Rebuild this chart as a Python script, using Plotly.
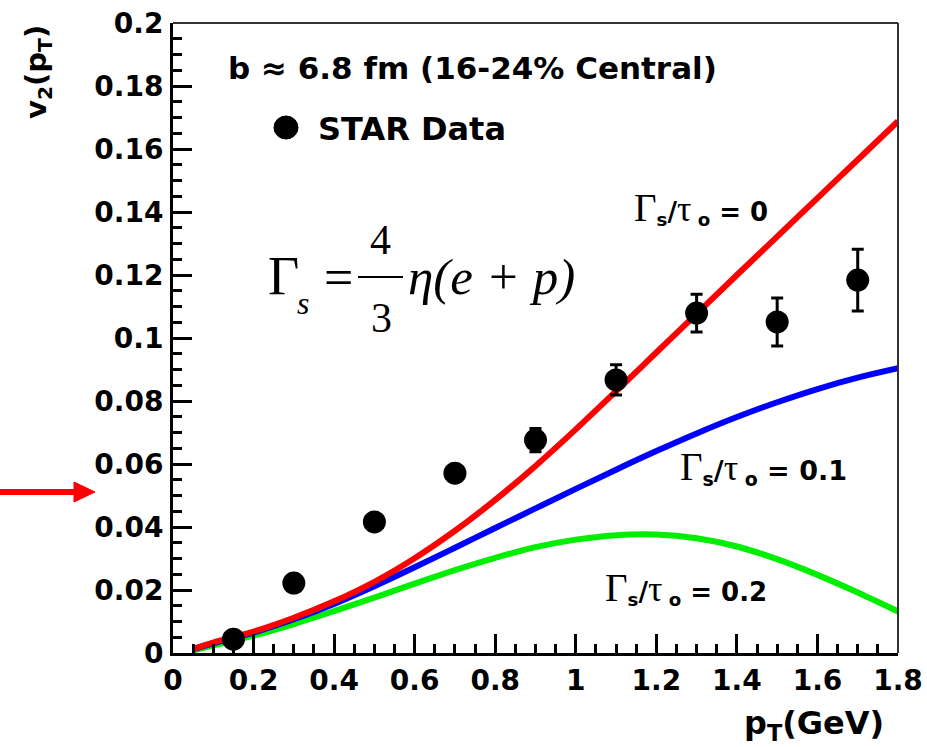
import plotly.graph_objects as go

# ---------------- data ----------------
pt_data = [0.15, 0.3, 0.5, 0.7, 0.9, 1.1, 1.3, 1.5, 1.7]
v2_data = [0.0044, 0.0222, 0.0416, 0.0571, 0.0676, 0.0867, 0.1079, 0.1051, 0.1184]
v2_err = [0.001, 0.001, 0.0012, 0.0015, 0.0037, 0.0048, 0.006, 0.0076, 0.0098]

pt_curve = [0.05, 0.1, 0.2, 0.3, 0.4, 0.5, 0.6, 0.7, 0.8, 0.9, 1.0, 1.1, 1.2,
            1.3, 1.4, 1.5, 1.6, 1.7, 1.8]
v2_ideal = [0.0013, 0.0033, 0.0068, 0.0112, 0.0164, 0.0226, 0.0301, 0.0388, 0.0486, 0.0594,
            0.0710, 0.0831, 0.0954, 0.1077, 0.1200, 0.1322, 0.1444, 0.1566, 0.1688]
v2_visc01 = [0.0012, 0.0031, 0.0065, 0.0107, 0.0156, 0.0212, 0.0272, 0.0334, 0.0397, 0.0459,
             0.0521, 0.0582, 0.0641, 0.0697, 0.0749, 0.0796, 0.0838, 0.0874, 0.0904]
v2_visc02 = [0.0008, 0.0024, 0.0055, 0.0092, 0.0133, 0.0176, 0.0220, 0.0263, 0.0302, 0.0336,
             0.0360, 0.0374, 0.0376, 0.0364, 0.0338, 0.0298, 0.0248, 0.0192, 0.0132]

x_ticks = [0, 0.2, 0.4, 0.6, 0.8, 1, 1.2, 1.4, 1.6, 1.8]
x_ticklabels = ["0", "0.2", "0.4", "0.6", "0.8", "1", "1.2", "1.4", "1.6", "1.8"]
y_ticks = [0, 0.02, 0.04, 0.06, 0.08, 0.1, 0.12, 0.14, 0.16, 0.18, 0.2]
y_ticklabels = ["0", "0.02", "0.04", "0.06", "0.08", "0.1", "0.12", "0.14", "0.16", "0.18", "0.2"]

# ---------------- geometry helpers (pixel -> paper) ----------------
W, H = 927, 747
L, R, T, B = 173, 898, 23, 653


def px(x):
    return (x - L) / (R - L)


def py(y):
    return (B - y) / (B - T)


SANS = "DejaVu Sans"
SERIF = "Liberation Serif"

fig = go.Figure()

fig.add_trace(go.Scatter(x=pt_curve, y=v2_visc02, mode="lines", line=dict(color="#00ee00", width=6, shape="spline"),
                         hoverinfo="skip"))
fig.add_trace(go.Scatter(x=pt_curve, y=v2_visc01, mode="lines", line=dict(color="#0000ff", width=6, shape="spline"),
                         hoverinfo="skip"))
fig.add_trace(go.Scatter(x=pt_curve, y=v2_ideal, mode="lines", line=dict(color="#ff0000", width=6, shape="spline"),
                         hoverinfo="skip"))
fig.add_trace(go.Scatter(x=pt_data, y=v2_data, mode="markers",
                         marker=dict(color="black", size=23, symbol="circle"),
                         error_y=dict(type="data", array=v2_err, color="black", thickness=3, width=6),
                         name="STAR Data"))

axis_common = dict(
    ticks="inside", ticklen=19, tickwidth=3, tickcolor="black",
    showline=True, linewidth=3, linecolor="black",
    showgrid=False, zeroline=False, automargin=False,
    tickfont=dict(family=SANS, size=28, color="black", weight="bold"),
)
fig.update_xaxes(range=[0, 1.8], tickvals=x_ticks, ticktext=x_ticklabels,
                 minor=dict(dtick=0.05, tick0=0, ticks="inside", ticklen=9, tickwidth=3, tickcolor="black",
                            showgrid=False),
                 ticklabelstandoff=0, **axis_common)
fig.update_yaxes(range=[0, 0.2], tickvals=y_ticks, ticktext=y_ticklabels,
                 minor=dict(dtick=0.005, tick0=0, ticks="inside", ticklen=9, tickwidth=3, tickcolor="black",
                            showgrid=False),
                 ticklabelstandoff=1, **axis_common)

shapes = []
# thin top and right frame
shapes.append(dict(type="line", xref="paper", yref="paper", x0=0, x1=1, y0=1, y1=1,
                   line=dict(color="#333333", width=2)))
shapes.append(dict(type="line", xref="paper", yref="paper", x0=1, x1=1, y0=0, y1=1,
                   line=dict(color="#333333", width=2)))
# legend dot
shapes.append(dict(type="circle", xref="paper", yref="paper", x0=px(274), x1=px(298), y0=py(139), y1=py(116),
                   fillcolor="black", line=dict(color="black", width=1)))
# fraction bar
shapes.append(dict(type="line", xref="paper", yref="paper", x0=px(358), x1=px(403), y0=py(277), y1=py(277),
                   line=dict(color="black", width=2)))
# red arrow
shapes.append(dict(type="line", xref="paper", yref="paper", x0=px(0), x1=px(78), y0=py(492), y1=py(492),
                   line=dict(color="#ff0000", width=6)))
shapes.append(dict(type="path", xref="paper", yref="paper",
                   path=f"M {px(74)},{py(482)} L {px(95)},{py(492)} L {px(74)},{py(502)} Z",
                   fillcolor="#ff0000", line=dict(color="#ff0000", width=1)))
fig.update_layout(shapes=shapes)

ann = []


def add_text(text, x, y, size, family=SANS, weight="bold", xanchor="left", yanchor="middle", angle=0, style="normal"):
    ann.append(dict(text=text, x=px(x), y=py(y), xref="paper", yref="paper", showarrow=False,
                    xanchor=xanchor, yanchor=yanchor, textangle=angle,
                    font=dict(family=family, size=size, color="black", weight=weight, style=style)))


add_text("b ≈ 6.8 fm (16-24% Central)", 226, 68, 31)
add_text("STAR Data", 316, 129, 32)


# viscosity labels
def gamma_label(val):
    return (f"<span style='font-family:{SERIF};font-weight:normal;font-size:39px'>Γ</span>"
            f"<sub>s</sub>/<span style='font-family:{SERIF};font-weight:normal;font-size:36px'>τ</span>"
            f"<sub> o</sub> = {val}")


add_text(gamma_label("0"), 701, 208, 26, xanchor="center")
add_text(gamma_label("0.1"), 763, 468, 27, xanchor="center")
add_text(gamma_label("0.2"), 686, 588, 26, xanchor="center")

# formula
add_text("Γ", 266, 276, 54, family=SERIF, weight="normal")
add_text("s", 295, 303, 32, family=SERIF, weight="normal", style="italic")
add_text("=", 322, 277, 52, family=SERIF, weight="normal")
add_text("4", 380, 240, 42, family=SERIF, weight="normal", xanchor="center")
add_text("3", 381, 318, 42, family=SERIF, weight="normal", xanchor="center")
add_text("η(e + p)", 406, 277, 51, family=SERIF, weight="normal", style="italic")

# axis titles
add_text("v<sub>2</sub>(p<sub>T</sub>)", 38, 72, 29, xanchor="center", angle=-90)
add_text("p<sub>T</sub>(GeV)", 814, 725, 32, xanchor="center")

fig.update_layout(
    annotations=ann,
    width=W, height=H,
    margin=dict(l=L, r=W - R, t=T, b=H - B),
    plot_bgcolor="white", paper_bgcolor="white",
    showlegend=False,
)

fig.write_html("out.html")
